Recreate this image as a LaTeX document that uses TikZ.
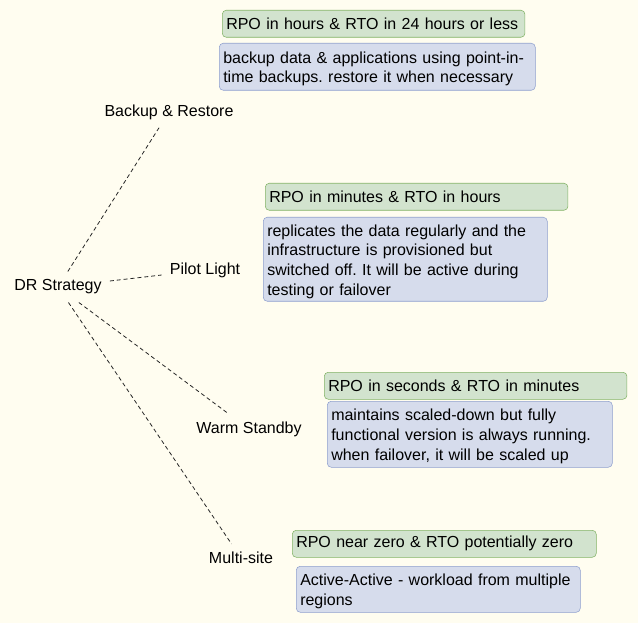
\documentclass[tikz,border=0pt]{standalone}
\usepackage{fontspec}
\setmainfont{Liberation Sans}
\usepackage{xcolor}
\usepackage{tikz}
\frenchspacing

\definecolor{bgcream}{HTML}{FFFDF0}
\definecolor{rpofill}{HTML}{D2E3CE}
\definecolor{rpoline}{HTML}{82B366}
\definecolor{notefill}{HTML}{D6DCEC}
\definecolor{noteline}{HTML}{8E9FCE}

\tikzset{
  strat/.style={inner sep=6pt, yshift=-1.5pt, font=\fontsize{12}{14.8}\selectfont},
  rpo/.style={draw=rpoline, fill=rpofill, rounded corners=3pt, anchor=north west,
    inner xsep=3pt, inner ysep=0pt, align=left, minimum height=20.25pt,
    font=\fontsize{12}{14.8}\selectfont},
  note/.style={draw=noteline, fill=notefill, rounded corners=3pt, anchor=north west,
    inner xsep=3pt, inner ysep=0pt, align=left,
    execute at begin node={\rule{0pt}{12pt}},
    font=\fontsize{12}{14.8}\selectfont},
  link/.style={draw=black!85, line width=0.6pt, dash pattern=on 3pt off 2.2pt}
}

\begin{document}
\begin{tikzpicture}[x=0.75pt,y=-0.75pt]
  \fill[bgcream] (0,0) rectangle (638,623);
  \useasboundingbox (0,0) rectangle (638,623);

  % strategies
  \node[strat] (dr) at (58,285) {DR Strategy};
  \node[strat] (backup) at (169,110) {Backup \& Restore};
  \node[strat] (pilot) at (205,268) {Pilot Light};
  \node[strat] (warm) at (249,427) {Warm Standby};
  \node[strat] (multi) at (241,556) {Multi-site};

  \draw[link] (dr) -- (backup);
  \draw[link] (dr) -- (pilot);
  \draw[link] (dr) -- (warm);
  \draw[link] (dr) -- (multi);

  % backup & restore
  \node[rpo, text width=221pt] (rpoBackup) at (222,10) {RPO in hours \& RTO in 24 hours or less};
  \node[note, text width=231pt, minimum height=35.25pt] (noteBackup) at (219,43)
    {backup data \& applications using point-in-\\time backups. restore it when necessary};

  % pilot light
  \node[rpo, text width=221pt] (rpoPilot) at (265,183) {RPO in minutes \& RTO in hours};
  \node[note, text width=207pt, minimum height=63pt] (notePilot) at (263,217)
    {replicates the data regularly and the\\infrastructure is provisioned but\\switched off. It will be active during\\testing or failover};

  % warm standby
  \node[rpo, text width=221pt] (rpoWarm) at (324,372) {RPO in seconds \& RTO in minutes};
  \node[note, text width=207.75pt, minimum height=49.5pt] (noteWarm) at (327,401)
    {maintains scaled-down but fully\\functional version is always running.\\when failover, it will be scaled up};

  % multi-site
  \node[rpo, text width=222pt] (rpoMulti) at (292,530) {RPO near zero \& RTO potentially zero};
  \node[note, text width=207pt, minimum height=34.5pt] (noteMulti) at (296,566)
    {Active-Active - workload from multiple\\regions};
\end{tikzpicture}
\end{document}
